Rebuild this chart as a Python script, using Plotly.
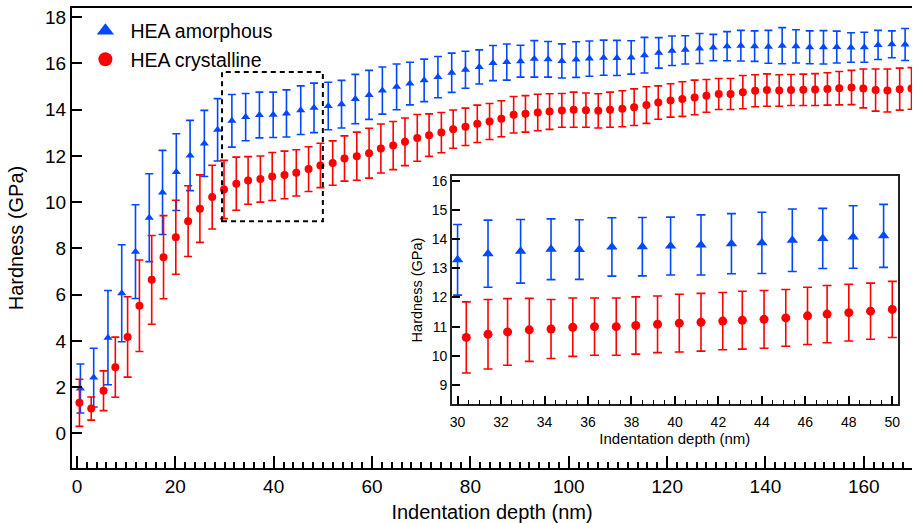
import plotly.graph_objects as go

# ---- Main panel: hardness vs indentation depth ----
amo_depth = [0.7, 3.4, 6.3, 9.1, 11.9, 14.7, 17.4, 20.2, 23.0, 25.9, 28.6, 31.5, 34.3, 37.1,
             39.9, 42.6, 45.5, 48.2, 51.1, 53.8, 56.6, 59.4, 62.1, 65.0, 67.7, 70.6, 73.4,
             76.2, 79.0, 81.8, 84.6, 87.4, 90.2, 93.0, 95.8, 98.6, 101.5, 104.2, 107.1,
             109.8, 112.7, 115.4, 118.3, 121.0, 123.7, 126.6, 129.4, 132.2, 135.0, 137.8,
             140.6, 143.4, 146.2, 149.0, 151.8, 154.5, 157.4, 160.1, 162.9, 165.7, 168.4]
amo_hard = [1.94, 2.41, 4.14, 6.06, 7.86, 9.33, 10.42, 11.30, 12.02, 12.54, 13.13, 13.52, 13.68,
            13.77, 13.78, 13.84, 13.98, 14.08, 14.16, 14.24, 14.46, 14.64, 14.83, 14.99, 15.13,
            15.27, 15.41, 15.60, 15.73, 15.85, 16.02, 16.06, 16.10, 16.20, 16.18, 16.11, 16.17,
            16.21, 16.25, 16.24, 16.26, 16.36, 16.46, 16.55, 16.59, 16.65, 16.69, 16.75, 16.77,
            16.75, 16.72, 16.77, 16.74, 16.70, 16.70, 16.71, 16.69, 16.70, 16.80, 16.83, 16.82]
amo_err = [1.06, 1.27, 2.04, 2.10, 2.03, 1.90, 1.82, 1.66, 1.52, 1.43, 1.35, 1.14, 1.02, 0.99,
           0.98, 1.02, 1.05, 1.07, 1.03, 1.03, 1.07, 1.06, 1.02, 0.99, 0.92, 0.92, 0.89, 0.85,
           0.80, 0.74, 0.76, 0.78, 0.69, 0.79, 0.77, 0.74, 0.77, 0.76, 0.76, 0.76, 0.72, 0.77,
           0.66, 0.64, 0.61, 0.65, 0.57, 0.63, 0.66, 0.66, 0.71, 0.78, 0.72, 0.71, 0.72, 0.69,
           0.64, 0.65, 0.63, 0.58, 0.69]

cry_depth = [0.5, 2.9, 5.4, 7.8, 10.3, 12.7, 15.2, 17.6, 20.1, 22.6, 25.0, 27.5, 29.9, 32.4,
             34.8, 37.3, 39.7, 42.2, 44.6, 47.1, 49.5, 52.0, 54.4, 56.9, 59.4, 61.8, 64.3,
             66.7, 69.2, 71.6, 74.1, 76.5, 79.0, 81.4, 83.9, 86.3, 88.8, 91.2, 93.7, 96.1,
             98.6, 101.0, 103.5, 106.0, 108.4, 110.9, 113.3, 115.8, 118.2, 120.7, 123.1,
             125.6, 128.0, 130.5, 132.9, 135.4, 137.9, 140.3, 142.8, 145.2, 147.7, 150.1,
             152.6, 155.0, 157.5, 159.9, 162.4, 164.8, 167.3, 169.7]
cry_hard = [1.32, 1.07, 1.84, 2.86, 4.17, 5.52, 6.64, 7.62, 8.48, 9.18, 9.72, 10.22, 10.55,
            10.80, 10.94, 11.00, 11.11, 11.18, 11.27, 11.43, 11.59, 11.69, 11.89, 11.99, 12.12,
            12.32, 12.45, 12.61, 12.78, 12.90, 13.01, 13.16, 13.26, 13.39, 13.49, 13.61, 13.78,
            13.82, 13.88, 13.92, 13.97, 14.00, 13.98, 13.95, 14.00, 14.04, 14.11, 14.20, 14.31,
            14.40, 14.46, 14.53, 14.60, 14.68, 14.68, 14.76, 14.82, 14.85, 14.83, 14.85, 14.86,
            14.87, 14.90, 14.93, 14.96, 14.92, 14.85, 14.83, 14.89, 14.92]
cry_err = [1.02, 0.50, 0.86, 1.30, 1.74, 1.98, 1.92, 1.80, 1.60, 1.53, 1.46, 1.38, 1.26, 1.15,
           1.03, 1.00, 1.04, 1.03, 1.00, 0.97, 0.96, 0.96, 0.98, 1.04, 1.08, 1.06, 1.04, 1.03,
           1.01, 0.92, 0.87, 0.83, 0.81, 0.81, 0.78, 0.78, 0.79, 0.79, 0.79, 0.77, 0.73, 0.76,
           0.74, 0.74, 0.76, 0.78, 0.79, 0.79, 0.72, 0.72, 0.75, 0.75, 0.71, 0.67, 0.67, 0.72,
           0.69, 0.70, 0.68, 0.67, 0.68, 0.69, 0.70, 0.72, 0.74, 0.84, 0.91, 0.93, 0.91, 0.90]

# ---- Inset: zoom on the 30-50 nm window ----
ins_amo_depth = [30.0, 31.4, 32.9, 34.3, 35.6, 37.1, 38.5, 39.8, 41.2, 42.6, 44.0, 45.4, 46.8,
                 48.2, 49.6]
ins_amo_hard = [13.29, 13.50, 13.58, 13.65, 13.64, 13.73, 13.74, 13.76, 13.80, 13.84, 13.87,
                13.96, 14.02, 14.07, 14.11]
ins_amo_err = [1.21, 1.15, 1.09, 1.04, 1.02, 1.00, 1.00, 0.99, 1.03, 1.03, 1.05, 1.07, 1.03,
               1.07, 1.08]

ins_cry_depth = [30.4, 31.4, 32.3, 33.3, 34.3, 35.3, 36.3, 37.3, 38.2, 39.2, 40.2, 41.2, 42.2,
                 43.1, 44.1, 45.1, 46.1, 47.0, 48.0, 49.0, 50.0]
ins_cry_hard = [10.63, 10.74, 10.82, 10.89, 10.92, 10.98, 11.00, 11.00, 11.04, 11.08, 11.12,
                11.15, 11.19, 11.22, 11.25, 11.30, 11.37, 11.43, 11.48, 11.53, 11.59]
ins_cry_err = [1.22, 1.19, 1.14, 1.08, 1.01, 1.00, 0.98, 0.98, 0.98, 0.97, 0.99, 0.99, 0.98,
               0.99, 0.99, 0.97, 0.98, 0.98, 0.97, 0.96, 0.96]

series_names = ["HEA amorphous", "HEA crystalline"]
main_xticks = [0, 20, 40, 60, 80, 100, 120, 140, 160]

BLUE = "rgb(0,72,255)"
RED = "rgb(255,0,0)"
FONT = "Liberation Sans, Arial, sans-serif"

fig = go.Figure()

# main panel traces
fig.add_trace(go.Scatter(
    x=amo_depth, y=amo_hard, mode="markers", showlegend=False,
    marker=dict(symbol="triangle-up", size=8, color=BLUE, line=dict(width=0)),
    error_y=dict(type="data", array=amo_err, color=BLUE, thickness=1.6, width=4),
    xaxis="x", yaxis="y"))
fig.add_trace(go.Scatter(
    x=cry_depth, y=cry_hard, mode="markers", showlegend=False,
    marker=dict(symbol="circle", size=8, color=RED, line=dict(width=0)),
    error_y=dict(type="data", array=cry_err, color=RED, thickness=1.6, width=4),
    xaxis="x", yaxis="y"))

# legend entries (larger symbols than the data markers)
fig.add_trace(go.Scatter(
    x=[None], y=[None], mode="markers", name=series_names[0],
    marker=dict(symbol="triangle-up", size=15, color=BLUE), xaxis="x", yaxis="y"))
fig.add_trace(go.Scatter(
    x=[None], y=[None], mode="markers", name=series_names[1],
    marker=dict(symbol="circle", size=14, color=RED), xaxis="x", yaxis="y"))

# inset traces
fig.add_trace(go.Scatter(
    x=ins_amo_depth, y=ins_amo_hard, mode="markers", showlegend=False,
    marker=dict(symbol="triangle-up", size=10, color=BLUE, line=dict(width=0)),
    error_y=dict(type="data", array=ins_amo_err, color=BLUE, thickness=1.6, width=4.5),
    xaxis="x2", yaxis="y2"))
fig.add_trace(go.Scatter(
    x=ins_cry_depth, y=ins_cry_hard, mode="markers", showlegend=False,
    marker=dict(symbol="circle", size=9, color=RED, line=dict(width=0)),
    error_y=dict(type="data", array=ins_cry_err, color=RED, thickness=1.6, width=4.5),
    xaxis="x2", yaxis="y2"))

# dashed box marking the zoomed window
fig.add_shape(type="rect", xref="x", yref="y", x0=29.5, x1=50.0, y0=9.18, y1=15.63,
              line=dict(color="black", width=2, dash="5px,4px"), layer="above")

fig.update_layout(
    width=915, height=523,
    margin=dict(l=72, r=0, t=8, b=55),
    paper_bgcolor="white", plot_bgcolor="white",
    font=dict(family=FONT, color="black"),
    showlegend=True,
    legend=dict(x=0.010, y=0.992, xanchor="left", yanchor="top",
                bgcolor="rgba(0,0,0,0)", font=dict(size=19.5, family=FONT),
                itemwidth=40, tracegroupgap=0),
    xaxis=dict(
        domain=[0, 1], range=[-1.01, 169.8], anchor="y",
        showline=True, linecolor="black", linewidth=2, mirror=True,
        showgrid=False, zeroline=False,
        tickmode="array", tickvals=main_xticks,
        ticks="inside", ticklen=12, tickwidth=2, tickcolor="black",
        minor=dict(dtick=2, ticks="inside", ticklen=6, tickwidth=1.5, tickcolor="black"),
        tickfont=dict(size=19),
        title=dict(text="Indentation depth (nm)", font=dict(size=20), standoff=9),
    ),
    yaxis=dict(
        domain=[0, 1], range=[-1.5, 18.4], anchor="x",
        showline=True, linecolor="black", linewidth=2,
        showgrid=False, zeroline=False,
        dtick=2, tick0=0,
        ticks="inside", ticklen=10, tickwidth=2, tickcolor="black",
        tickfont=dict(size=19),
        title=dict(text="Hardness (GPa)", font=dict(size=20), standoff=16),
    ),
    xaxis2=dict(
        domain=[0.4523, 0.983], range=[29.74, 50.25], anchor="y2",
        showline=True, linecolor="#222", linewidth=1.5, mirror=True,
        showgrid=False, zeroline=False,
        dtick=2, tick0=30,
        ticks="inside", ticklen=9, tickwidth=1.5, tickcolor="black",
        minor=dict(dtick=0.5, ticks="inside", ticklen=5, tickwidth=1.2, tickcolor="black"),
        tickfont=dict(size=14), ticklabelstandoff=4,
        title=dict(text="Indentation depth (nm)", font=dict(size=15), standoff=3),
    ),
    yaxis2=dict(
        domain=[0.1385, 0.6354], range=[8.34, 16.17], anchor="x2",
        showline=True, linecolor="#222", linewidth=1.5, mirror=True,
        showgrid=False, zeroline=False,
        dtick=1, tick0=0,
        ticks="inside", ticklen=8, tickwidth=1.5, tickcolor="black",
        tickfont=dict(size=14),
        title=dict(text="Hardness (GPa)", font=dict(size=14.5), standoff=6),
    ),
)

fig.write_html("out.html")
